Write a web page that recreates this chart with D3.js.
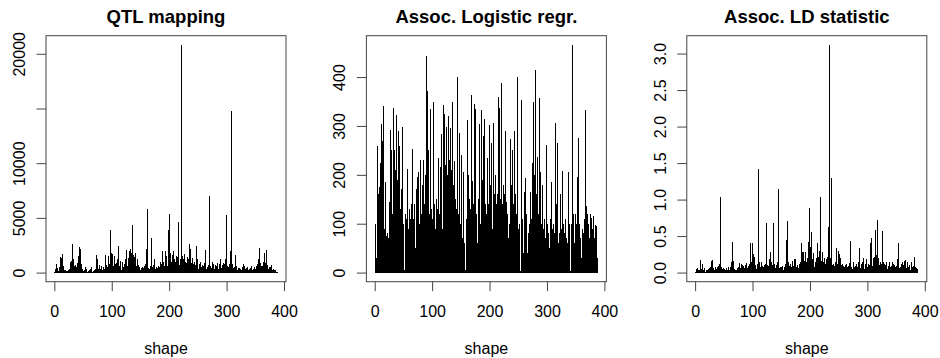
<!DOCTYPE html>
<html>
<head>
<meta charset="utf-8">
<script src="https://cdn.jsdelivr.net/npm/d3@7"></script>
<style>
  body { margin: 0; background: #fff; }
  svg { display: block; }
  text { font-family: "Liberation Sans", Arial, Helvetica, sans-serif; fill: #000; }
</style>
</head>
<body>
<div id="chart"></div>
<script>
// values per marker index 1..388
const qtl = [
  50, 300, 800, 600, 200, 400, 150, 100, 500, 1400, 900, 1300, 300, 1200, 1700, 600, 200, 100, 250, 80,
  60, 150, 100, 40, 200, 120, 300, 1000, 700, 1100, 2590, 800, 400, 1200, 600, 300, 700, 200, 500, 900,
  600, 1500, 1000, 2350, 2150, 2000, 800, 400, 300, 150, 100, 60, 200, 400, 500, 300, 80, 50, 120, 40,
  100, 200, 300, 500, 150, 80, 60, 40, 100, 200, 300, 150, 400, 1650, 1200, 600, 300, 700, 500, 200,
  300, 600, 400, 200, 100, 500, 300, 200, 1600, 1200, 700, 300, 500, 900, 1500, 800, 3900, 1400, 600, 1800,
  1000, 1700, 600, 400, 1500, 800, 300, 600, 900, 1200, 2450, 2400, 600, 300, 400, 1100, 200, 700, 1000, 500,
  300, 800, 400, 1200, 1500, 2100, 600, 400, 900, 1300, 2000, 1500, 2150, 1200, 1800, 1000, 4330, 1600, 1400, 700,
  1800, 900, 600, 300, 1200, 400, 700, 500, 300, 200, 400, 150, 300, 500, 200, 400, 600, 200, 800, 1400,
  2200, 5820, 900, 400, 200, 300, 600, 400, 3200, 800, 500, 300, 700, 1200, 600, 300, 200, 500, 400, 200,
  300, 600, 200, 500, 1000, 800, 300, 1200, 2000, 700, 1000, 600, 1900, 2000, 800, 1500, 600, 1200, 3900, 5400,
  2500, 1800, 1500, 1000, 1600, 800, 1400, 2000, 600, 1200, 1000, 1500, 900, 1300, 1400, 4660, 1600, 700, 1200, 900,
  1000, 20820, 1500, 800, 1200, 600, 1700, 1000, 500, 900, 600, 1400, 800, 1200, 1600, 2650, 2200, 1500, 900, 600,
  1300, 800, 400, 600, 1000, 700, 2000, 2400, 1200, 500, 300, 800, 600, 1000, 400, 200, 500, 700, 300, 600,
  900, 400, 2070, 600, 300, 500, 200, 400, 700, 500, 7040, 600, 400, 300, 600, 1000, 800, 400, 300, 500,
  700, 300, 600, 900, 400, 300, 500, 800, 1200, 600, 400, 300, 700, 900, 500, 600, 800, 1200, 1000, 5275,
  600, 400, 300, 500, 800, 2000, 800, 14725, 2600, 800, 600, 400, 300, 500, 1650, 900, 600, 300, 200, 400,
  300, 200, 400, 100, 300, 200, 500, 300, 200, 800, 400, 600, 300, 200, 400, 500, 300, 100, 200, 300,
  400, 200, 600, 300, 100, 200, 300, 500, 400, 200, 300, 600, 400, 800, 1200, 600, 1000, 2250, 900, 600,
  400, 300, 600, 1000, 800, 1750, 900, 600, 1200, 2040, 700, 400, 300, 500, 200, 300, 500, 700, 300, 200,
  100, 300, 200, 150, 100, 200, 80, 50
];
const logit = [
  40, 100, 30, 85, 260, 60, 160, 175, 120, 225, 180, 304, 150, 270, 341, 200, 90, 185, 5, 4,
  75, 80, 20, 70, 145, 40, 110, 292, 180, 250, 120, 337, 200, 250, 160, 90, 210, 323, 140, 190,
  290, 100, 180, 260, 130, 60, 170, 220, 297, 90, 100, 6, 5, 120, 60, 110, 212, 50, 90, 130,
  70, 30, 110, 140, 252, 100, 60, 110, 80, 140, 50, 170, 120, 195, 90, 205, 140, 100, 230, 160,
  70, 120, 180, 60, 230, 140, 90, 80, 200, 120, 443, 372, 150, 250, 90, 120, 335, 210, 130, 80,
  110, 180, 348, 140, 90, 70, 150, 100, 60, 130, 235, 120, 80, 215, 100, 140, 283, 90, 150, 343,
  180, 325, 220, 130, 298, 200, 160, 150, 320, 230, 190, 296, 140, 210, 348, 120, 90, 180, 228, 100,
  150, 130, 80, 400, 180, 120, 285, 160, 100, 60, 240, 140, 70, 205, 100, 60, 40, 5, 3, 110,
  60, 312, 200, 90, 150, 130, 80, 363, 110, 60, 188, 140, 100, 345, 335, 200, 120, 90, 60, 150,
  110, 305, 160, 100, 80, 333, 190, 120, 280, 150, 200, 315, 140, 120, 90, 235, 160, 100, 140, 302,
  110, 180, 265, 130, 90, 120, 307, 160, 100, 70, 200, 140, 90, 160, 360, 190, 120, 337, 150, 388,
  200, 140, 100, 180, 80, 160, 290, 110, 60, 145, 90, 120, 70, 100, 50, 130, 273, 180, 100, 250,
  140, 90, 110, 290, 160, 70, 120, 400, 180, 90, 60, 100, 5, 4, 60, 354, 110, 70, 40, 165,
  90, 60, 193, 120, 70, 40, 80, 60, 30, 100, 60, 165, 110, 225, 90, 348, 140, 120, 200, 415,
  160, 110, 236, 90, 60, 120, 358, 150, 205, 100, 80, 180, 130, 90, 60, 110, 70, 50, 40, 262,
  100, 60, 80, 50, 30, 110, 70, 185, 90, 60, 40, 100, 80, 120, 307, 140, 90, 265, 100, 60,
  40, 80, 160, 110, 70, 90, 207, 100, 60, 80, 50, 90, 110, 70, 40, 60, 90, 205, 100, 5,
  4, 100, 80, 466, 287, 120, 90, 60, 120, 80, 60, 100, 195, 80, 276, 100, 60, 40, 70, 30,
  90, 50, 80, 60, 40, 110, 333, 137, 90, 120, 60, 100, 80, 70, 50, 120, 60, 112, 40, 90,
  115, 70, 60, 98, 80, 95, 60, 30
];
const ld = [
  0.01, 0.03, 0.05, 0.02, 0.06, 0.04, 0.02, 0.03, 0.08, 0.17, 0.05, 0.12, 0.03, 0.02, 0.04, 0.06, 0.02, 0.01, 0.03, 0.02,
  0.04, 0.02, 0.05, 0.03, 0.06, 0.02, 0.08, 0.04, 0.16, 0.05, 0.17, 0.06, 0.03, 0.04, 0.08, 0.02, 0.05, 0.03, 0.07, 0.04,
  0.09, 0.06, 0.12, 1.03, 0.20, 0.08, 0.05, 0.03, 0.06, 0.04, 0.02, 0.05, 0.03, 0.06, 0.04, 0.02, 0.03, 0.05, 0.07, 0.04,
  0.06, 0.08, 0.15, 0.10, 0.42, 0.16, 0.06, 0.03, 0.05, 0.02, 0.04, 0.03, 0.06, 0.02, 0.05, 0.07, 0.04, 0.13, 0.06, 0.12,
  0.05, 0.08, 0.11, 0.04, 0.09, 0.06, 0.10, 0.05, 0.08, 0.13, 0.06, 0.04, 0.09, 0.07, 0.12, 0.40, 0.10, 0.06, 0.15, 0.40,
  0.25, 0.12, 0.22, 0.08, 0.06, 0.10, 0.05, 0.09, 0.12, 0.40, 1.42, 0.14, 0.08, 0.06, 0.15, 0.05, 0.09, 0.04, 0.07, 0.10,
  0.06, 0.08, 0.12, 0.15, 0.68, 0.10, 0.06, 0.09, 0.18, 0.08, 0.12, 0.28, 0.14, 0.07, 0.10, 0.22, 0.68, 0.12, 0.08, 0.06,
  0.10, 0.05, 0.08, 0.14, 1.14, 0.10, 0.06, 0.08, 0.04, 0.07, 0.05, 0.09, 0.06, 0.04, 0.08, 0.05, 0.07, 0.12, 0.15, 0.45,
  0.70, 0.14, 0.06, 0.09, 0.05, 0.12, 0.08, 0.04, 0.10, 0.16, 0.06, 0.09, 0.18, 0.12, 0.19, 0.07, 0.05, 0.10, 0.08, 0.06,
  0.12, 0.09, 0.15, 0.10, 0.41, 0.18, 0.28, 0.12, 0.28, 0.09, 0.16, 0.28, 0.10, 0.14, 0.08, 0.20, 0.42, 0.12, 0.88, 0.16,
  0.35, 0.56, 0.14, 0.10, 0.18, 0.12, 0.27, 0.08, 0.15, 0.10, 0.20, 0.13, 0.28, 0.40, 0.22, 0.14, 0.30, 1.03, 0.71, 0.16,
  0.12, 0.28, 0.10, 0.14, 0.20, 0.08, 0.12, 0.18, 0.10, 0.15, 0.22, 0.63, 0.18, 3.12, 0.20, 0.16, 1.29, 0.14, 0.10, 0.08,
  0.12, 0.06, 0.09, 0.14, 0.08, 0.20, 0.33, 0.12, 0.30, 0.10, 0.25, 0.14, 0.08, 0.20, 0.10, 0.06, 0.12, 0.09, 0.05, 0.08,
  0.04, 0.10, 0.06, 0.12, 0.08, 0.05, 0.09, 0.13, 0.07, 0.43, 0.10, 0.06, 0.08, 0.05, 0.12, 0.14, 0.07, 0.05, 0.09, 0.06,
  0.12, 0.08, 0.05, 0.10, 0.14, 0.33, 0.09, 0.06, 0.12, 0.08, 0.15, 0.10, 0.20, 0.07, 0.05, 0.09, 0.12, 0.18, 0.10, 0.06,
  0.08, 0.12, 0.06, 0.10, 0.14, 0.40, 0.47, 0.12, 0.09, 0.15, 0.20, 0.14, 0.22, 0.58, 0.18, 0.24, 0.72, 0.56, 0.20, 0.12,
  0.10, 0.08, 0.14, 0.06, 0.12, 0.09, 0.57, 0.15, 0.08, 0.12, 0.06, 0.10, 0.14, 0.07, 0.05, 0.09, 0.06, 0.12, 0.15, 0.08,
  0.05, 0.09, 0.15, 0.06, 0.12, 0.08, 0.05, 0.10, 0.07, 0.04, 0.09, 0.12, 0.18, 0.40, 0.10, 0.06, 0.08, 0.05, 0.12, 0.09,
  0.06, 0.15, 0.10, 0.16, 0.08, 0.17, 0.12, 0.06, 0.14, 0.09, 0.05, 0.08, 0.06, 0.10, 0.04, 0.07, 0.14, 0.05, 0.08, 0.06,
  0.09, 0.22, 0.05, 0.07, 0.04, 0.06, 0.03, 0.05
];

const titles = ['QTL mapping', 'Assoc. Logistic regr.', 'Assoc. LD statistic'];
const xLabel = 'shape';
const xTicks = [0, 100, 200, 300, 400];
const qtlTicks = [0, 5000, 10000, 15000, 20000];
const qtlTickLabels = ['0', '5000', '10000', '', '20000']; // R drops the 15000 label (overlap)
const logitTicks = [0, 100, 200, 300, 400];
const logitTickLabels = ['0', '100', '200', '300', '400'];
const ldTicks = [0, 0.5, 1, 1.5, 2, 2.5, 3];
const ldTickLabels = ['0.0', '0.5', '1.0', '1.5', '2.0', '2.5', '3.0'];

const panels = [
  { values: qtl, ticks: qtlTicks, labels: qtlTickLabels },
  { values: logit, ticks: logitTicks, labels: logitTickLabels },
  { values: ld, ticks: ldTicks, labels: ldTickLabels },
];

const width = 940;
const height = 358;
const panelStep = 320.4;
const box = { left: 46, top: 35.7, width: 240, height: 246 };
const tickLen = 9.5;

const svg = d3
  .select('#chart')
  .append('svg')
  .attr('width', width)
  .attr('height', height);

// R-style axis range: data range padded 4% each side
function rRange(lo, hi) {
  const r = hi - lo;
  return [lo - 0.04 * r, hi + 0.04 * r];
}

panels.forEach((p, k) => {
  const g = svg
    .append('g')
    .attr('transform', `translate(${box.left + k * panelStep},${box.top})`);

  const n = p.values.length;
  const x = d3.scaleLinear().domain(rRange(1, n)).range([0, box.width]);
  const lo = Math.min(0, d3.min(p.values));
  const y = d3
    .scaleLinear()
    .domain(rRange(lo, d3.max(p.values)))
    .range([box.height, 0]);

  // type = "h" spikes
  g.append('g')
    .attr('stroke', '#000')
    .attr('stroke-width', 1)
    .attr('shape-rendering', 'crispEdges')
    .selectAll('line')
    .data(p.values)
    .join('line')
    .attr('x1', (d, i) => x(i + 1))
    .attr('x2', (d, i) => x(i + 1))
    .attr('y1', y(0))
    .attr('y2', (d) => y(d));

  g.append('rect')
    .attr('width', box.width)
    .attr('height', box.height)
    .attr('fill', 'none')
    .attr('stroke', '#444')
    .attr('stroke-width', 1);

  const xAxis = g
    .append('g')
    .attr('transform', `translate(0,${box.height})`)
    .call(d3.axisBottom(x).tickValues(xTicks).tickSize(tickLen).tickSizeOuter(0));
  xAxis.select('.domain').remove();
  xAxis.selectAll('line').attr('stroke', '#444');
  xAxis
    .selectAll('text')
    .attr('y', 35.5)
    .attr('dy', null)
    .style('font-size', '16px')
    .style('font-family', '"Liberation Sans", Arial, Helvetica, sans-serif');

  const yAxis = g
    .append('g')
    .call(
      d3
        .axisLeft(y)
        .tickValues(p.ticks)
        .tickFormat((d, i) => p.labels[i])
        .tickSize(tickLen)
        .tickSizeOuter(0)
    );
  yAxis.select('.domain').remove();
  yAxis.selectAll('line').attr('stroke', '#444');
  yAxis
    .selectAll('text')
    .attr('x', 0)
    .attr('y', -21)
    .attr('dy', null)
    .attr('transform', 'rotate(-90)')
    .attr('text-anchor', 'middle')
    .style('font-size', '16px')
    .style('font-family', '"Liberation Sans", Arial, Helvetica, sans-serif');

  g.append('text')
    .attr('x', box.width / 2)
    .attr('y', 23 - box.top)
    .attr('text-anchor', 'middle')
    .style('font-size', '18.5px')
    .style('font-weight', 'bold')
    .text(titles[k]);

  g.append('text')
    .attr('x', box.width / 2)
    .attr('y', 354 - box.top)
    .attr('text-anchor', 'middle')
    .style('font-size', '16px')
    .text(xLabel);
});
</script>
</body>
</html>
